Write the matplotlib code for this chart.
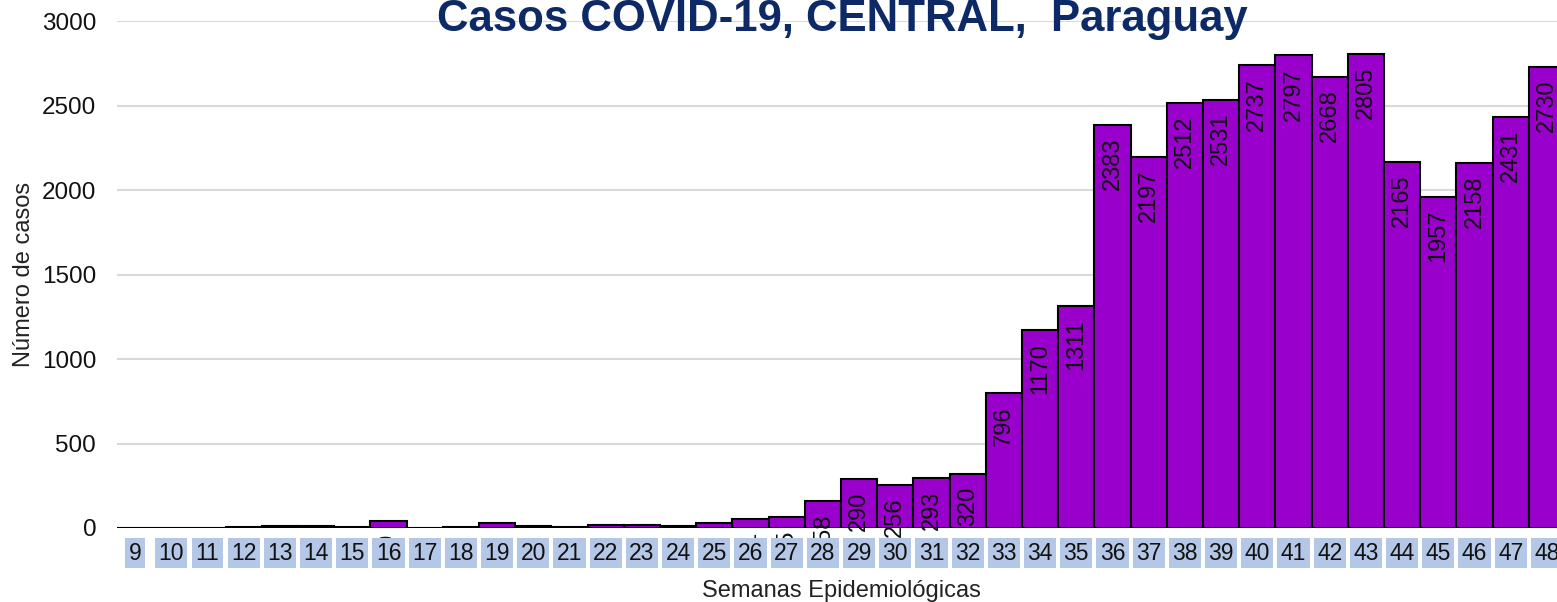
import matplotlib.pyplot as plt

plt.rcParams['font.family'] = ['Liberation Sans', 'DejaVu Sans']

semanas = list(range(9, 49))
casos = [0, 0, 0, 3, 14, 14, 8, 40, 2, 6,
         28, 13, 6, 20, 20, 14, 28, 51, 65, 158,
         290, 256, 293, 320, 796, 1170, 1311, 2383, 2197, 2512,
         2531, 2737, 2797, 2668, 2805, 2165, 1957, 2158, 2431, 2730]
yticks = [0, 500, 1000, 1500, 2000, 2500, 3000]

fig = plt.figure(figsize=(15.57, 6.02), dpi=100)
ax = fig.add_axes([117/1557, 74/602, 1448/1557, 507/602])

bars = ax.bar(semanas, casos, width=1.0, color='#9900cc', edgecolor='black', linewidth=1.5, zorder=2)

# value labels, rotated, inside the top of each bar
for x, v in zip(semanas, casos):
    if v == 0:
        continue
    ax.annotate(str(v), (x, v), xytext=(0, -9), textcoords='offset points',
                rotation=90, ha='center', va='top', fontsize=17, color='#111111',
                zorder=3, annotation_clip=False, clip_on=False)

ax.set_xlim(8.5, 48.5)
ax.set_ylim(0, 3000)
ax.set_yticks(yticks)
ax.set_xticks(semanas)
ax.set_xticklabels([str(s) for s in semanas])

ax.yaxis.grid(True, color='#d9d9d9', linewidth=1.5)
ax.yaxis.set_zorder(0.5)
ax.xaxis.set_zorder(5)
for s in ax.spines.values():
    s.set_visible(False)

ax.tick_params(axis='both', length=0, labelcolor='#111111')
ax.tick_params(axis='x', pad=10, labelsize=16.5)
ax.tick_params(axis='y', pad=15, labelsize=17.5)
for lbl in ax.get_xticklabels():
    lbl.set_bbox(dict(facecolor='#b4c7e7', edgecolor='none', pad=2.5))

ax.set_xlabel('Semanas Epidemiológicas', fontsize=17, color='#222222', labelpad=11)
ax.set_ylabel('Número de casos', fontsize=17, color='#222222', labelpad=5)

fig.text(842/1557, 1 - 19/602, 'Casos COVID-19, CENTRAL,  Paraguay', ha='center', va='center',
         fontsize=31.5, fontweight='bold', color='#0d2a66')

fig.savefig('out.png', dpi=100)
